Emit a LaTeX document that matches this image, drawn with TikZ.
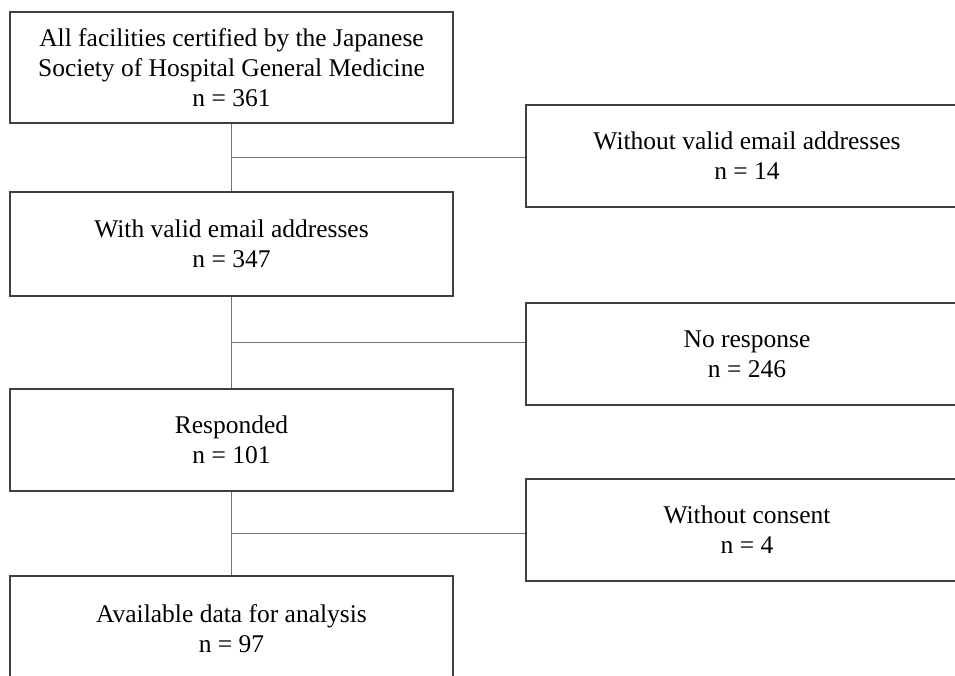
\documentclass[tikz,border=0pt]{standalone}
\usepackage{fontspec}
\setmainfont{Liberation Serif}
\usetikzlibrary{calc}
\begin{document}
\begin{tikzpicture}[x=1pt,y=-1pt,
    caja/.style={draw=black!75, line width=1.4pt, align=center,
        font=\fontsize{25.5}{30}\selectfont, inner sep=0pt},
    linea/.style={draw=black!55, line width=1pt}]
    % Recorte del dibujo
    \clip (0,0) rectangle (955,675);

    % Cajas de la izquierda
    \node[caja, minimum width=443pt, minimum height=111pt] (total) at (231.5,67.5)
        {All facilities certified by the Japanese\\Society of Hospital General Medicine\\n = 361};
    \node[caja, minimum width=443pt, minimum height=104pt] (email) at (231.5,244)
        {With valid email addresses\\n = 347};
    \node[caja, minimum width=443pt, minimum height=102pt] (resp) at (231.5,440)
        {Responded\\n = 101};
    \node[caja, minimum width=443pt, minimum height=106pt] (datos) at (231.5,629)
        {Available data for analysis\\n = 97};

    % Cajas de exclusion
    \node[caja, minimum width=442pt, minimum height=102pt] (sinemail) at (747,156)
        {Without valid email addresses\\n = 14};
    \node[caja, minimum width=442pt, minimum height=102pt] (sinresp) at (747,354)
        {No response\\n = 246};
    \node[caja, minimum width=442pt, minimum height=102pt] (sincons) at (747,530)
        {Without consent\\n = 4};

    % Puntos medios entre cajas
    \coordinate (m1) at ($(total.south)!0.5!(email.north)$);
    \coordinate (m2) at ($(email.south)!0.5!(resp.north)$);
    \coordinate (m3) at ($(resp.south)!0.5!(datos.north)$);

    % Lineas verticales
    \draw[linea] (total) -- (email);
    \draw[linea] (email) -- (resp);
    \draw[linea] (resp) -- (datos);

    % Lineas horizontales
    \draw[linea] (m1) -- (m1 -| sinemail.west);
    \draw[linea] (m2) -- (m2 -| sinresp.west);
    \draw[linea] (m3) -- (m3 -| sincons.west);
\end{tikzpicture}
\end{document}
